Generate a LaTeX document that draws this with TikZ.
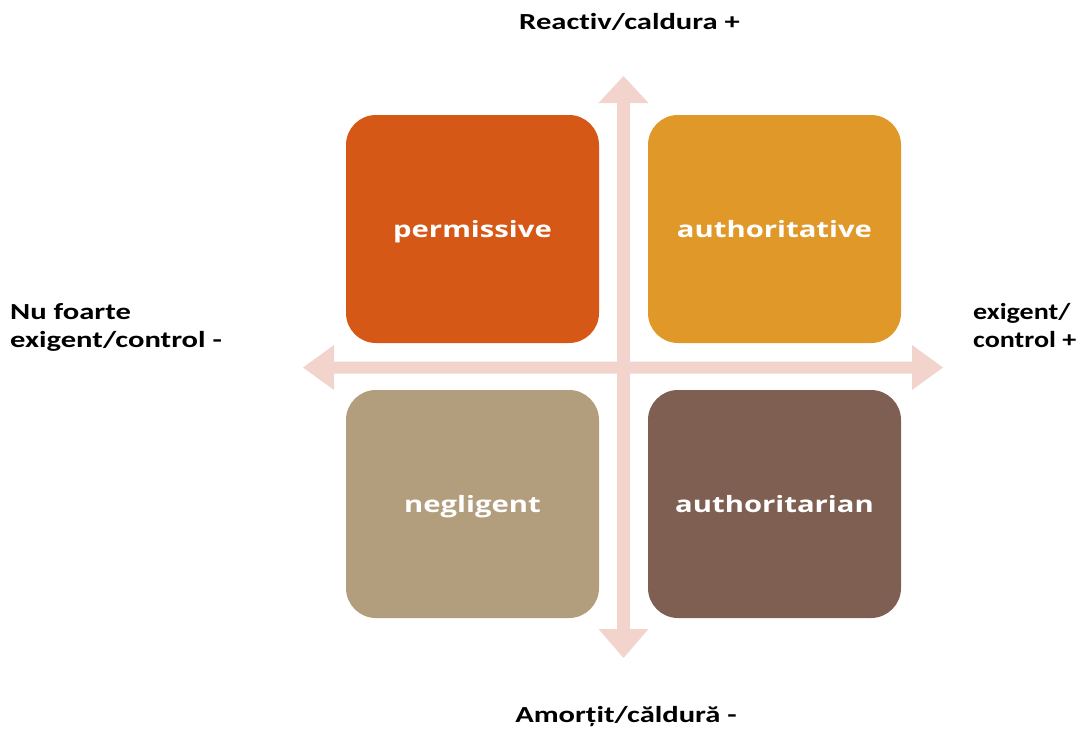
\documentclass[tikz,border=0pt]{standalone}
\usepackage{fontspec}
\usetikzlibrary{calc}
\setmainfont[FakeStretch=1.33,RawFeature=-liga]{Carlito}
\newfontfamily\narrowlabel[FakeStretch=1.22,RawFeature=-liga]{Carlito}
\newfontfamily\quadfont[FakeStretch=1.3]{Open Sans}
\definecolor{axispink}{RGB}{242,212,205}
\definecolor{permcol}{RGB}{213,88,22}
\definecolor{authcol}{RGB}{224,152,40}
\definecolor{neglcol}{RGB}{178,157,125}
\definecolor{tyrcol}{RGB}{127,95,82}
\begin{document}
\begin{tikzpicture}[x=1pt,y=-1pt,
  quad/.style={rounded corners=30pt, minimum width=253pt, minimum height=228pt,
    inner sep=0pt, text height=22pt, text depth=5pt, text=white,
    font=\quadfont\bfseries\fontsize{22.5}{27}\selectfont},
  axislabel/.style={font=\bfseries\fontsize{23}{27.5}\selectfont, text=black,
    inner sep=0pt, align=left},
  axisarrow/.style={fill=axispink, draw=none}]
\useasboundingbox (0,0) rectangle (1084,729);

% axis tips
\coordinate (up) at (623.5,76);
\coordinate (down) at (623.5,658);
\coordinate (west) at (303,367.5);
\coordinate (east) at (943,367.5);

% vertical double arrow
\fill[axisarrow] (up) -- ++(25,27) -- ++(-18.5,0) |- ($(down)+(6.5,-29)$) -- ++(18.5,0)
  -- (down) -- ++(-25,-29) -- ++(18.5,0) |- ($(up)+(-6.5,27)$) -- ++(-18.5,0) -- cycle;
% horizontal double arrow
\fill[axisarrow] (west) -- ++(31,-22.5) -- ++(0,16.5) -| ($(east)+(-31,-6)$) -- ++(0,-16.5)
  -- (east) -- ++(-31,22.5) -- ++(0,-16.5) -| ($(west)+(31,6)$) -- ++(0,16.5) -- cycle;

% quadrants
\node[quad, fill=permcol] (perm) at (472.5,229) {permissive};
\node[quad, fill=authcol] (auth) at (774.5,229) {authoritative};
\node[quad, fill=neglcol] (negl) at (472.5,504) {negligent};
\node[quad, fill=tyrcol] (tyr) at (774.5,504) {authoritarian};

% axis labels (base anchor sits on the last line)
\node[axislabel, anchor=base] (toplab) at (629.5,29) {Reactiv/caldura +};
\node[axislabel, anchor=base] (botlab) at (626,722) {Amorțit/căldură -};
\node[axislabel, anchor=base west] (leftlab) at (10,347) {Nu foarte\\exigent/control -};
\node[axislabel, anchor=base west, font=\narrowlabel\bfseries\fontsize{23}{27.5}\selectfont]
  (rightlab) at (973,347) {exigent/\\control +};
\end{tikzpicture}
\end{document}
